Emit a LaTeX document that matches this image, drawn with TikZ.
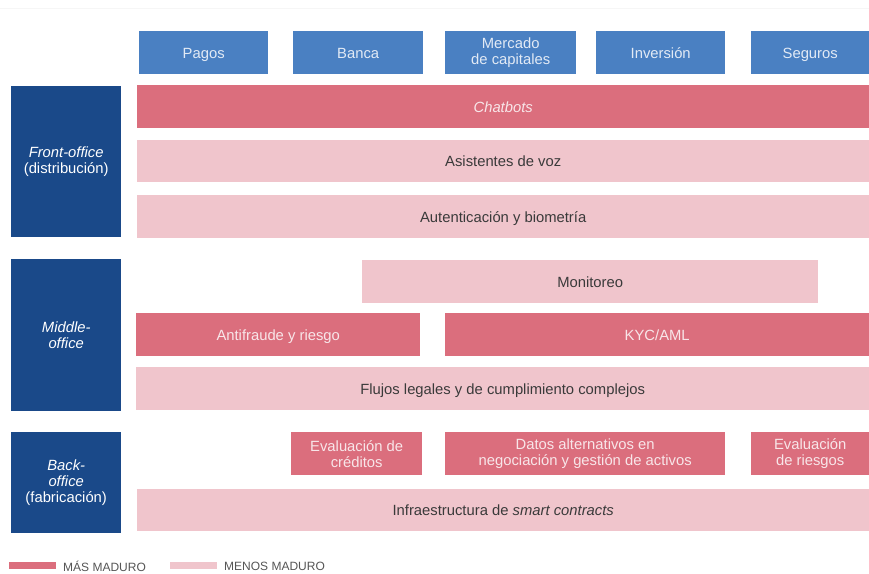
\documentclass[tikz,border=0pt]{standalone}
\usepackage{fontspec}
\setmainfont{Liberation Sans}
\definecolor{hdr}{HTML}{4A80C2}
\definecolor{navy}{HTML}{1A4989}
\definecolor{pinkD}{HTML}{DB6E7D}
\definecolor{pinkL}{HTML}{F0C5CC}
\definecolor{txtD}{HTML}{3A3A3A}
\definecolor{txtP}{HTML}{F8E6E9}
\definecolor{txtH}{HTML}{E2EAF5}
\definecolor{txtLeg}{HTML}{555555}
\tikzset{
  cell/.style={anchor=north west, inner sep=0pt, align=center,
    font=\fontsize{14.8}{16}\selectfont},
  hdrbox/.style={cell, fill=hdr, text=txtH},
  oneline/.style={text height=10.6pt, text depth=0pt},
  navybox/.style={cell, fill=navy, text=white},
  darkbox/.style={cell, fill=pinkD, text=txtP},
  lightbox/.style={cell, fill=pinkL, text=txtD},
  legtext/.style={anchor=west, inner sep=0pt, text=txtLeg,
    font=\fontsize{12}{13}\selectfont},
}
\newcommand{\bx}[7]{%
  \node[#6, minimum width={(#4-#2)*1pt}, minimum height={(#5-#3)*1pt}]
    (#1) at (#2,#3) {#7};}
\begin{document}
\begin{tikzpicture}[x=1pt,y=-1pt]
\useasboundingbox (0,0) rectangle (869,573);
\fill[white] (0,0) rectangle (869,573);
\draw[gray!7, line width=1pt] (0,8) -- (869,8);
% header
\bx{pagos}{139}{31}{268}{74}{hdrbox, oneline}{Pagos}
\bx{banca}{293}{31}{423}{74}{hdrbox, oneline}{Banca}
\bx{mercado}{445}{31}{576}{74}{hdrbox}{Mercado\\de capitales}
\bx{inversion}{596}{31}{725}{74}{hdrbox, oneline}{Inversión}
\bx{seguros}{751}{31}{869}{74}{hdrbox, oneline}{Seguros}
% left labels
\bx{front}{11}{86}{121}{237}{navybox}{\textit{Front-office}\\(distribución)}
\bx{middle}{11}{259}{121}{411}{navybox}{\textit{Middle-}\\\textit{office}}
\bx{back}{11}{432}{121}{533}{navybox}{\textit{Back-}\\\textit{office}\\(fabricación)}
% front office rows
\bx{chatbots}{137}{85}{869}{128}{darkbox, oneline}{\textit{Chatbots}}
\bx{asist}{137}{140}{869}{182}{lightbox, oneline}{Asistentes de voz}
\bx{auten}{137}{195}{869}{238}{lightbox, oneline}{Autenticación y biometría}
% middle office rows
\bx{monit}{362}{260}{818}{303}{lightbox, oneline}{Monitoreo}
\bx{antif}{136}{313}{420}{356}{darkbox, oneline}{Antifraude y riesgo}
\bx{kyc}{445}{313}{869}{356}{darkbox, oneline}{KYC/AML}
\bx{flujos}{136}{367}{869}{410}{lightbox, oneline}{Flujos legales y de cumplimiento complejos}
% back office rows
\bx{evcred}{291}{432}{422}{475}{darkbox}{Evaluación de\\créditos}
\bx{datos}{445}{432}{725}{475}{darkbox}{Datos alternativos en\\negociación y gestión de activos}
\bx{evries}{751}{432}{869}{475}{darkbox}{Evaluación\\de riesgos}
\bx{infra}{137}{489}{869}{531}{lightbox, oneline}{Infraestructura de \textit{smart contracts}}
% legend
\bx{swD}{9}{562}{56}{569}{darkbox}{}
\node[legtext] (legD) at (63,566) {MÁS MADURO};
\bx{swL}{170}{562}{217}{569}{lightbox}{}
\node[legtext] (legL) at (224,566) {MENOS MADURO};
\end{tikzpicture}
\end{document}
